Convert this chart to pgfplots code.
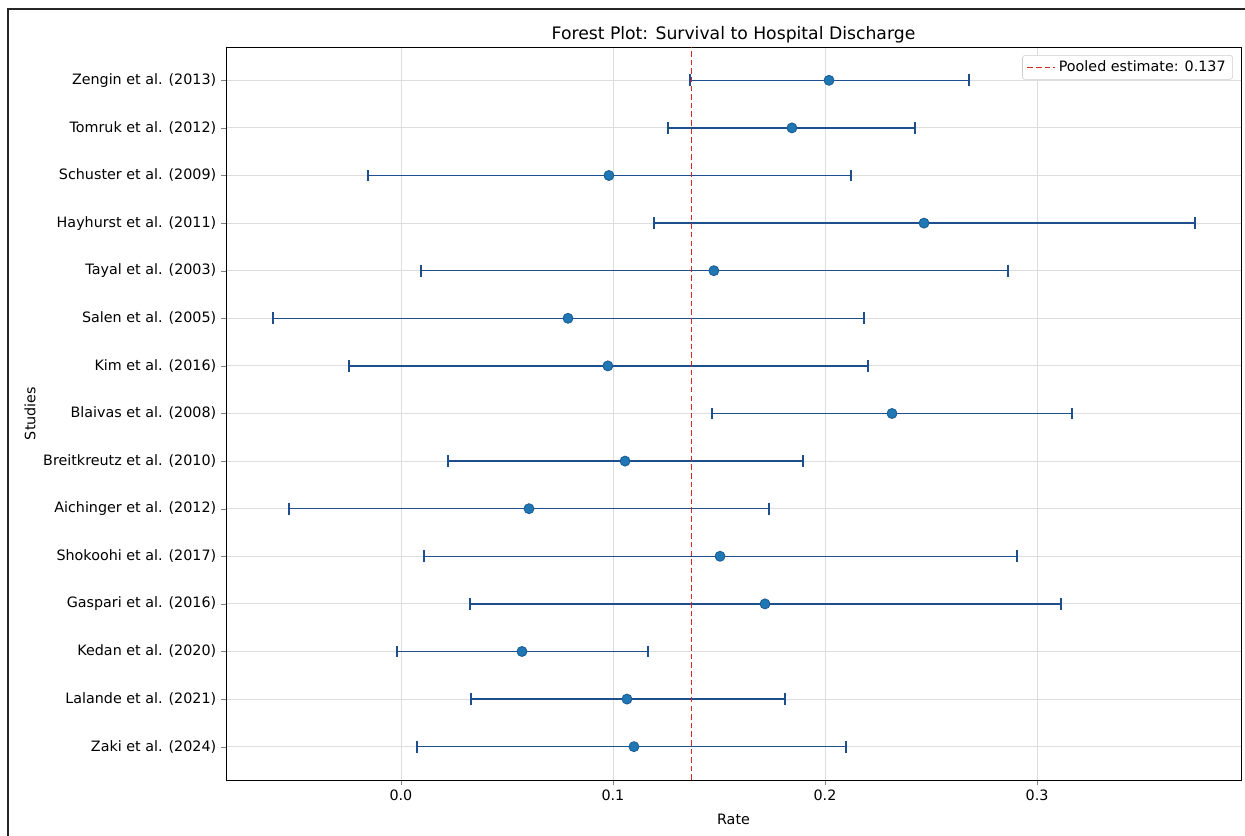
\documentclass[border=0pt]{standalone}
\usepackage{fontspec}
\setmainfont{DejaVu Sans}
\usepackage{pgfplots}
\usepackage{pgfplotstable}
\pgfplotsset{compat=1.18}
\definecolor{barblue}{HTML}{1F4E8C}
\definecolor{ptblue}{HTML}{1F77B4}
\definecolor{ptedge}{HTML}{1A5C94}
\definecolor{poolred}{RGB}{214,39,40}
\definecolor{gridgray}{HTML}{DDDDDD}
\pgfplotstableread{
y  x       lo       hi
14 0.2019  0.1363   0.2680
13 0.1844  0.1260   0.2425
12 0.0981  -0.0156  0.2123
11 0.2467  0.1193   0.3745
10 0.1476  0.0094   0.2863
9  0.0788  -0.0604  0.2184
8  0.0976  -0.0245  0.2203
7  0.2316  0.1467   0.3165
6  0.1057  0.0222   0.1896
5  0.0604  -0.0528  0.1736
4  0.1505  0.0108   0.2906
3  0.1717  0.0325   0.3113
2  0.0571  -0.0019  0.1165
1  0.1066  0.0330   0.1811
0  0.1099  0.0075   0.2099
}\studies
\begin{document}
\begin{tikzpicture}
\useasboundingbox (-162.72pt,-40.32pt) rectangle (733.68pt,561.6pt);
\draw[line width=1.1pt, black!85] (-156.96pt,-40.32pt) -- (-156.96pt,555.12pt) -- (733.68pt,555.12pt);
\begin{axis}[
  at={(0pt,0pt)}, anchor=south west,
  scale only axis,
  width=730.8pt, height=527.76pt,
  xmin=-0.0825, xmax=0.3962,
  ymin=-0.7, ymax=14.7,
  xtick={0,0.1,0.2,0.3},
  xticklabels={0.0,0.1,0.2,0.3},
  ytick={0,...,14},
  yticklabels={Zaki et al. (2024),Lalande et al. (2021),Kedan et al. (2020),Gaspari et al. (2016),Shokoohi et al. (2017),Aichinger et al. (2012),Breitkreutz et al. (2010),Blaivas et al. (2008),Kim et al. (2016),Salen et al. (2005),Tayal et al. (2003),Hayhurst et al. (2011),Schuster et al. (2009),Tomruk et al. (2012),Zengin et al. (2013)},
  tick align=outside,
  tick pos=left,
  major tick length=3.5pt,
  grid=major,
  every major grid/.style={draw=gridgray, line width=0.6pt},
  tick label style={font=\fontsize{10.3}{12}\selectfont},
  /pgf/number format/assume math mode=true,
  xlabel={Rate}, ylabel={Studies},
  label style={font=\fontsize{10.3}{12}\selectfont},
  xlabel style={yshift=-3pt},
  ylabel style={yshift=-1.3pt},
  title={Forest Plot: Survival to Hospital Discharge},
  title style={font=\fontsize{12.4}{14}\selectfont, yshift=-6.5pt},
  legend style={at={(0.992,0.989)}, anchor=north east, font=\fontsize{10.3}{12}\selectfont,
    draw=black!20, rounded corners=2pt, fill=white, inner xsep=3pt, inner ysep=2pt},
  legend cell align=left,
]
\addplot[only marks, mark=*, mark size=3.6pt,
  mark options={fill=ptblue, draw=ptedge, line width=0.6pt},
  forget plot,
  error bars/x dir=both, error bars/x explicit,
  error bars/error mark=|,
  error bars/error bar style={color=barblue, line width=1.1pt},
  error bars/error mark options={color=barblue, mark size=4.3pt, line width=1.1pt}]
  table[x=x, y=y, x error plus expr=\thisrow{hi}-\thisrow{x}, x error minus expr=\thisrow{x}-\thisrow{lo}] {\studies};
\draw[draw=poolred, line width=1.2pt, dash pattern=on 4pt off 2.2pt] (axis cs:0.137,-0.7) -- (axis cs:0.137,14.7);
\addlegendimage{legend image code/.code={\draw[draw=poolred, line width=1.2pt, dash pattern=on 4pt off 2.2pt] (0pt,0pt) -- (20pt,0pt);}}
\addlegendentry{Pooled estimate: 0.137}
\end{axis}
\end{tikzpicture}
\end{document}
